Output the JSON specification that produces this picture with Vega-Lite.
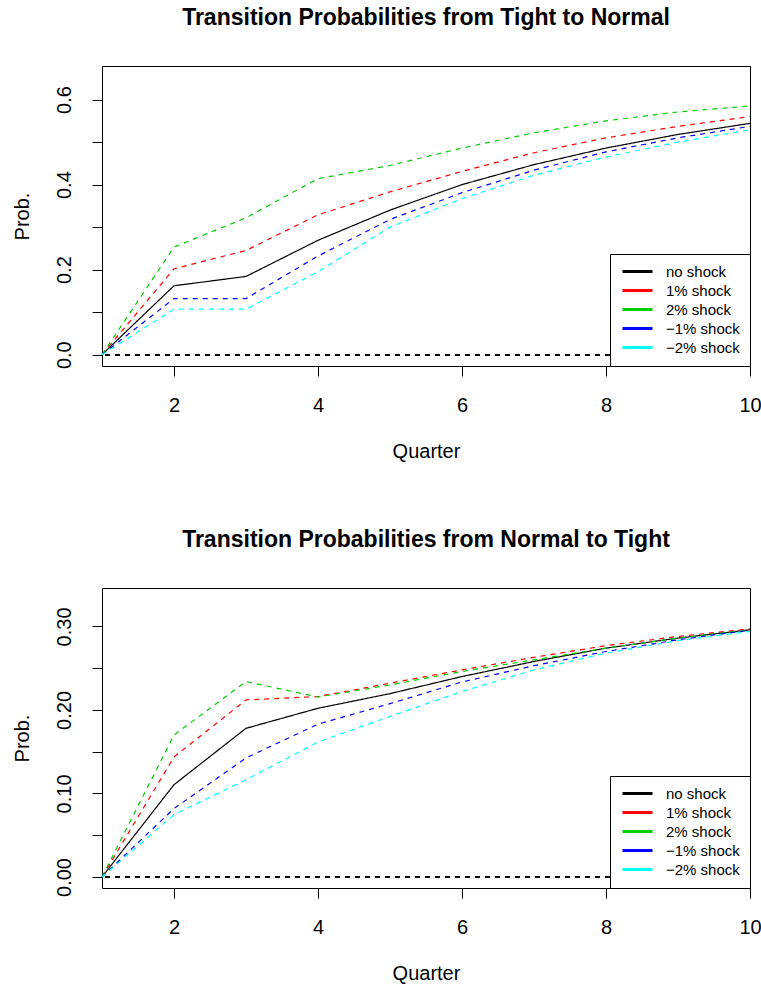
{
  "$schema": "https://vega.github.io/schema/vega-lite/v6.json",
  "padding": {"left": 11, "top": 6, "right": 0, "bottom": 0},
  "background": "white",
  "config": {
    "font": "Liberation Sans",
    "view": {"stroke": "black", "strokeWidth": 1},
    "axis": {"grid": false, "domain": false, "tickColor": "black", "tickSize": 10, "tickWidth": 1, "labelColor": "black", "labelFontSize": 20, "titleFontSize": 20, "titleFontWeight": "normal", "titleColor": "black", "labelFlush": false, "labelOverlap": false},
    "title": {"fontSize": 23, "fontWeight": "bold", "color": "black", "anchor": "middle", "frame": "group", "offset": 36},
    "legend": {"orient": "bottom-right", "offset": 0, "title": null, "strokeColor": "black", "fillColor": "white", "padding": 10, "rowPadding": 3, "labelFontSize": 15, "labelColor": "black", "symbolType": "M-3,0L3,0", "symbolStrokeWidth": 3, "symbolSize": 100, "symbolOffset": 10, "labelOffset": 21, "cornerRadius": 0}
  },
  "datasets": {
    "probs": [
      {"panel": "T2N", "quarter": 1, "series": "no shock", "prob": 0},
      {"panel": "T2N", "quarter": 2, "series": "no shock", "prob": 0.162},
      {"panel": "T2N", "quarter": 3, "series": "no shock", "prob": 0.184},
      {"panel": "T2N", "quarter": 4, "series": "no shock", "prob": 0.269},
      {"panel": "T2N", "quarter": 5, "series": "no shock", "prob": 0.340},
      {"panel": "T2N", "quarter": 6, "series": "no shock", "prob": 0.400},
      {"panel": "T2N", "quarter": 7, "series": "no shock", "prob": 0.447},
      {"panel": "T2N", "quarter": 8, "series": "no shock", "prob": 0.486},
      {"panel": "T2N", "quarter": 9, "series": "no shock", "prob": 0.518},
      {"panel": "T2N", "quarter": 10, "series": "no shock", "prob": 0.544},
      {"panel": "T2N", "quarter": 1, "series": "1% shock", "prob": 0},
      {"panel": "T2N", "quarter": 2, "series": "1% shock", "prob": 0.202},
      {"panel": "T2N", "quarter": 3, "series": "1% shock", "prob": 0.245},
      {"panel": "T2N", "quarter": 4, "series": "1% shock", "prob": 0.329},
      {"panel": "T2N", "quarter": 5, "series": "1% shock", "prob": 0.383},
      {"panel": "T2N", "quarter": 6, "series": "1% shock", "prob": 0.431},
      {"panel": "T2N", "quarter": 7, "series": "1% shock", "prob": 0.475},
      {"panel": "T2N", "quarter": 8, "series": "1% shock", "prob": 0.510},
      {"panel": "T2N", "quarter": 9, "series": "1% shock", "prob": 0.537},
      {"panel": "T2N", "quarter": 10, "series": "1% shock", "prob": 0.560},
      {"panel": "T2N", "quarter": 1, "series": "2% shock", "prob": 0},
      {"panel": "T2N", "quarter": 2, "series": "2% shock", "prob": 0.253},
      {"panel": "T2N", "quarter": 3, "series": "2% shock", "prob": 0.322},
      {"panel": "T2N", "quarter": 4, "series": "2% shock", "prob": 0.414},
      {"panel": "T2N", "quarter": 5, "series": "2% shock", "prob": 0.445},
      {"panel": "T2N", "quarter": 6, "series": "2% shock", "prob": 0.486},
      {"panel": "T2N", "quarter": 7, "series": "2% shock", "prob": 0.522},
      {"panel": "T2N", "quarter": 8, "series": "2% shock", "prob": 0.550},
      {"panel": "T2N", "quarter": 9, "series": "2% shock", "prob": 0.571},
      {"panel": "T2N", "quarter": 10, "series": "2% shock", "prob": 0.585},
      {"panel": "T2N", "quarter": 1, "series": "−1% shock", "prob": 0},
      {"panel": "T2N", "quarter": 2, "series": "−1% shock", "prob": 0.132},
      {"panel": "T2N", "quarter": 3, "series": "−1% shock", "prob": 0.132},
      {"panel": "T2N", "quarter": 4, "series": "−1% shock", "prob": 0.232},
      {"panel": "T2N", "quarter": 5, "series": "−1% shock", "prob": 0.318},
      {"panel": "T2N", "quarter": 6, "series": "−1% shock", "prob": 0.381},
      {"panel": "T2N", "quarter": 7, "series": "−1% shock", "prob": 0.434},
      {"panel": "T2N", "quarter": 8, "series": "−1% shock", "prob": 0.477},
      {"panel": "T2N", "quarter": 9, "series": "−1% shock", "prob": 0.510},
      {"panel": "T2N", "quarter": 10, "series": "−1% shock", "prob": 0.537},
      {"panel": "T2N", "quarter": 1, "series": "−2% shock", "prob": 0},
      {"panel": "T2N", "quarter": 2, "series": "−2% shock", "prob": 0.107},
      {"panel": "T2N", "quarter": 3, "series": "−2% shock", "prob": 0.107},
      {"panel": "T2N", "quarter": 4, "series": "−2% shock", "prob": 0.195},
      {"panel": "T2N", "quarter": 5, "series": "−2% shock", "prob": 0.300},
      {"panel": "T2N", "quarter": 6, "series": "−2% shock", "prob": 0.367},
      {"panel": "T2N", "quarter": 7, "series": "−2% shock", "prob": 0.422},
      {"panel": "T2N", "quarter": 8, "series": "−2% shock", "prob": 0.465},
      {"panel": "T2N", "quarter": 9, "series": "−2% shock", "prob": 0.500},
      {"panel": "T2N", "quarter": 10, "series": "−2% shock", "prob": 0.529},
      {"panel": "N2T", "quarter": 1, "series": "no shock", "prob": 0},
      {"panel": "N2T", "quarter": 2, "series": "no shock", "prob": 0.1105},
      {"panel": "N2T", "quarter": 3, "series": "no shock", "prob": 0.178},
      {"panel": "N2T", "quarter": 4, "series": "no shock", "prob": 0.202},
      {"panel": "N2T", "quarter": 5, "series": "no shock", "prob": 0.2195},
      {"panel": "N2T", "quarter": 6, "series": "no shock", "prob": 0.240},
      {"panel": "N2T", "quarter": 7, "series": "no shock", "prob": 0.258},
      {"panel": "N2T", "quarter": 8, "series": "no shock", "prob": 0.274},
      {"panel": "N2T", "quarter": 9, "series": "no shock", "prob": 0.286},
      {"panel": "N2T", "quarter": 10, "series": "no shock", "prob": 0.296},
      {"panel": "N2T", "quarter": 1, "series": "1% shock", "prob": 0},
      {"panel": "N2T", "quarter": 2, "series": "1% shock", "prob": 0.1437},
      {"panel": "N2T", "quarter": 3, "series": "1% shock", "prob": 0.212},
      {"panel": "N2T", "quarter": 4, "series": "1% shock", "prob": 0.216},
      {"panel": "N2T", "quarter": 5, "series": "1% shock", "prob": 0.232},
      {"panel": "N2T", "quarter": 6, "series": "1% shock", "prob": 0.248},
      {"panel": "N2T", "quarter": 7, "series": "1% shock", "prob": 0.263},
      {"panel": "N2T", "quarter": 8, "series": "1% shock", "prob": 0.277},
      {"panel": "N2T", "quarter": 9, "series": "1% shock", "prob": 0.288},
      {"panel": "N2T", "quarter": 10, "series": "1% shock", "prob": 0.297},
      {"panel": "N2T", "quarter": 1, "series": "2% shock", "prob": 0},
      {"panel": "N2T", "quarter": 2, "series": "2% shock", "prob": 0.170},
      {"panel": "N2T", "quarter": 3, "series": "2% shock", "prob": 0.234},
      {"panel": "N2T", "quarter": 4, "series": "2% shock", "prob": 0.2155},
      {"panel": "N2T", "quarter": 5, "series": "2% shock", "prob": 0.230},
      {"panel": "N2T", "quarter": 6, "series": "2% shock", "prob": 0.246},
      {"panel": "N2T", "quarter": 7, "series": "2% shock", "prob": 0.260},
      {"panel": "N2T", "quarter": 8, "series": "2% shock", "prob": 0.274},
      {"panel": "N2T", "quarter": 9, "series": "2% shock", "prob": 0.286},
      {"panel": "N2T", "quarter": 10, "series": "2% shock", "prob": 0.296},
      {"panel": "N2T", "quarter": 1, "series": "−1% shock", "prob": 0},
      {"panel": "N2T", "quarter": 2, "series": "−1% shock", "prob": 0.082},
      {"panel": "N2T", "quarter": 3, "series": "−1% shock", "prob": 0.1425},
      {"panel": "N2T", "quarter": 4, "series": "−1% shock", "prob": 0.183},
      {"panel": "N2T", "quarter": 5, "series": "−1% shock", "prob": 0.2075},
      {"panel": "N2T", "quarter": 6, "series": "−1% shock", "prob": 0.2335},
      {"panel": "N2T", "quarter": 7, "series": "−1% shock", "prob": 0.253},
      {"panel": "N2T", "quarter": 8, "series": "−1% shock", "prob": 0.270},
      {"panel": "N2T", "quarter": 9, "series": "−1% shock", "prob": 0.284},
      {"panel": "N2T", "quarter": 10, "series": "−1% shock", "prob": 0.2955},
      {"panel": "N2T", "quarter": 1, "series": "−2% shock", "prob": 0},
      {"panel": "N2T", "quarter": 2, "series": "−2% shock", "prob": 0.0746},
      {"panel": "N2T", "quarter": 3, "series": "−2% shock", "prob": 0.1165},
      {"panel": "N2T", "quarter": 4, "series": "−2% shock", "prob": 0.1616},
      {"panel": "N2T", "quarter": 5, "series": "−2% shock", "prob": 0.1923},
      {"panel": "N2T", "quarter": 6, "series": "−2% shock", "prob": 0.222},
      {"panel": "N2T", "quarter": 7, "series": "−2% shock", "prob": 0.248},
      {"panel": "N2T", "quarter": 8, "series": "−2% shock", "prob": 0.268},
      {"panel": "N2T", "quarter": 9, "series": "−2% shock", "prob": 0.283},
      {"panel": "N2T", "quarter": 10, "series": "−2% shock", "prob": 0.294}
    ]
  },
  "vconcat": [
    {
      "width": 648,
      "height": 300,
      "title": "Transition Probabilities from Tight to Normal",
      "data": {"name": "probs"},
      "transform": [{"filter": "datum.panel == 'T2N'"}],
      "layer": [
        {
          "mark": {"type": "rule", "color": "black", "strokeWidth": 1, "strokeDash": [5, 5]},
          "encoding": {"y": {"datum": 0, "type": "quantitative", "scale": {"domain": [-0.0267, 0.679], "nice": false, "zero": false}}}
        },
        {
          "mark": {"type": "line", "strokeWidth": 1.2},
          "encoding": {
            "x": {"field": "quarter", "type": "quantitative", "title": "Quarter", "scale": {"domain": [1, 10], "nice": false, "zero": false}, "axis": {"values": [2, 4, 6, 8, 10], "labelPadding": 19, "titlePadding": 26}},
            "y": {"field": "prob", "type": "quantitative", "title": "Prob.", "scale": {"domain": [-0.0267, 0.679], "nice": false, "zero": false}, "axis": {"values": [0, 0.1, 0.2, 0.3, 0.4, 0.5, 0.6], "labelExpr": "round(datum.value*10) % 2 == 0 ? format(datum.value, '.1f') : ''", "labelAngle": -90, "labelAlign": "center", "labelBaseline": "alphabetic", "labelPadding": 22, "titlePadding": 22}},
            "color": {"field": "series", "type": "nominal", "sort": null, "scale": {"domain": ["no shock", "1% shock", "2% shock", "−1% shock", "−2% shock"], "range": ["#000000", "#FF0000", "#00CD00", "#0000FF", "#00FFFF"]}},
            "strokeDash": {"field": "series", "type": "nominal", "legend": null, "scale": {"domain": ["no shock", "1% shock", "2% shock", "−1% shock", "−2% shock"], "range": [[1, 0], [5, 5], [5, 5], [5, 5], [5, 5]]}}
          }
        }
      ]
    },
    {
      "width": 648,
      "height": 300,
      "title": "Transition Probabilities from Normal to Tight",
      "data": {"name": "probs"},
      "transform": [{"filter": "datum.panel == 'N2T'"}],
      "layer": [
        {
          "mark": {"type": "rule", "color": "black", "strokeWidth": 1, "strokeDash": [5, 5]},
          "encoding": {"y": {"datum": 0, "type": "quantitative", "scale": {"domain": [-0.0132, 0.346], "nice": false, "zero": false}}}
        },
        {
          "mark": {"type": "line", "strokeWidth": 1.2},
          "encoding": {
            "x": {"field": "quarter", "type": "quantitative", "title": "Quarter", "scale": {"domain": [1, 10], "nice": false, "zero": false}, "axis": {"values": [2, 4, 6, 8, 10], "labelPadding": 19, "titlePadding": 26}},
            "y": {"field": "prob", "type": "quantitative", "title": "Prob.", "scale": {"domain": [-0.0132, 0.346], "nice": false, "zero": false}, "axis": {"values": [0, 0.05, 0.1, 0.15, 0.2, 0.25, 0.3], "labelExpr": "round(datum.value*20) % 2 == 0 ? format(datum.value, '.2f') : ''", "labelAngle": -90, "labelAlign": "center", "labelBaseline": "alphabetic", "labelPadding": 22, "titlePadding": 22}},
            "color": {"field": "series", "type": "nominal", "sort": null, "scale": {"domain": ["no shock", "1% shock", "2% shock", "−1% shock", "−2% shock"], "range": ["#000000", "#FF0000", "#00CD00", "#0000FF", "#00FFFF"]}},
            "strokeDash": {"field": "series", "type": "nominal", "legend": null, "scale": {"domain": ["no shock", "1% shock", "2% shock", "−1% shock", "−2% shock"], "range": [[1, 0], [5, 5], [5, 5], [5, 5], [5, 5]]}}
          }
        }
      ]
    }
  ],
  "spacing": 66,
  "resolve": {"legend": {"color": "independent"}, "scale": {"y": "independent"}}
}
